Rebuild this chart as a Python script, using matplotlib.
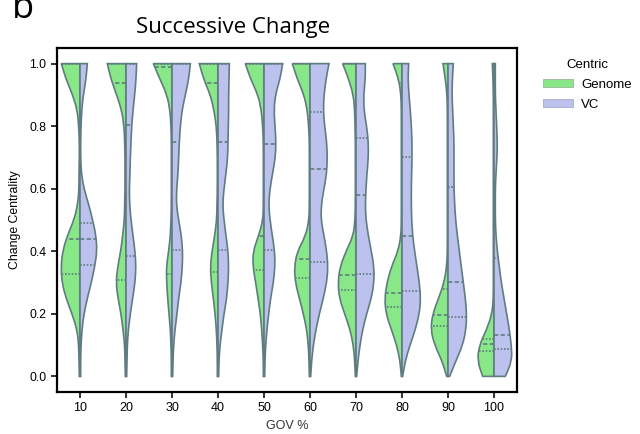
import numpy as np
import matplotlib
matplotlib.use("Agg")
import matplotlib.pyplot as plt
from matplotlib.path import Path
from matplotlib.patches import PathPatch, Patch

plt.rcParams['font.family'] = ['Liberation Sans', 'DejaVu Sans']

# categories
gov = ['10', '20', '30', '40', '50', '60', '70', '80', '90', '100']

levels = [0.0, 0.05, 0.1, 0.15, 0.2, 0.25, 0.3, 0.35, 0.4, 0.45, 0.5,
          0.55, 0.6, 0.65, 0.7, 0.75, 0.8, 0.85, 0.9, 0.95, 1.0]

# half-widths of the density (relative units), bottom -> top
genome_density = [
    [2, 3, 4, 9, 24, 42, 54, 57, 52, 38, 18, 7, 3, 3, 2, 2, 4, 8, 22, 42, 56],
    [2, 3, 4, 9, 15, 24, 30, 25, 16, 10, 5, 4, 3, 3, 3, 4, 6, 13, 28, 45, 56],
    [2, 2, 3, 5, 9, 13, 16, 17, 10, 5, 3, 2, 2, 2, 2, 2, 3, 6, 15, 36, 56],
    [2, 2, 3, 5, 9, 14, 20, 23, 18, 10, 4, 3, 2, 2, 2, 3, 5, 12, 23, 43, 56],
    [2, 2, 4, 7, 11, 18, 25, 33, 33, 16, 3, 2, 2, 2, 2, 2, 4, 8, 18, 40, 56],
    [2, 3, 5, 10, 20, 32, 44, 47, 38, 13, 3, 2, 2, 2, 2, 2, 4, 8, 18, 38, 53],
    [2, 4, 8, 18, 34, 50, 54, 48, 30, 8, 3, 2, 2, 2, 2, 2, 3, 4, 8, 22, 40],
    [2, 6, 16, 32, 48, 52, 45, 32, 12, 3, 2, 2, 2, 2, 2, 2, 2, 2, 3, 10, 27],
    [4, 18, 40, 52, 46, 28, 12, 4, 2, 2, 2, 2, 2, 2, 2, 2, 2, 2, 3, 8, 15],
    [34, 50, 44, 22, 6, 2, 2, 2, 2, 2, 2, 2, 2, 2, 2, 2, 2, 2, 2, 3, 5],
]
vc_density = [
    [2, 2, 3, 6, 12, 22, 34, 44, 51, 48, 38, 26, 12, 4, 2, 2, 3, 5, 10, 18, 22],
    [2, 3, 4, 7, 13, 20, 27, 30, 27, 21, 15, 11, 10, 12, 13, 15, 17, 21, 26, 30, 32],
    [2, 3, 5, 9, 15, 20, 27, 31, 32, 28, 20, 13, 14, 18, 20, 22, 25, 30, 40, 50, 55],
    [2, 3, 6, 12, 18, 26, 30, 32, 30, 24, 18, 14, 18, 24, 29, 30, 31, 32, 32, 33, 34],
    [2, 3, 5, 9, 14, 20, 28, 33, 32, 25, 18, 14, 18, 26, 34, 36, 33, 30, 34, 48, 56],
    [2, 5, 10, 18, 28, 40, 50, 54, 50, 42, 33, 34, 42, 50, 52, 50, 44, 40, 42, 48, 57],
    [2, 6, 12, 20, 32, 46, 54, 54, 46, 37, 30, 28, 30, 33, 37, 37, 32, 24, 23, 28, 28],
    [2, 10, 24, 40, 52, 56, 52, 45, 38, 32, 29, 28, 28, 29, 30, 30, 28, 25, 21, 18, 20],
    [5, 24, 44, 54, 56, 52, 46, 40, 34, 28, 23, 20, 18, 18, 18, 18, 16, 14, 12, 13, 16],
    [34, 54, 52, 46, 38, 30, 22, 16, 10, 6, 4, 4, 4, 6, 9, 10, 8, 6, 4, 4, 4],
]

# quartiles [q1, median, q3]
genome_quart = [
    [0.328, 0.438, 1.0], [0.309, 0.937, 1.0], [0.328, 0.99, 1.0],
    [0.334, 0.937, 1.0], [0.341, 0.449, 1.0], [0.314, 0.376, 1.0],
    [0.275, 0.323, 1.0], [0.222, 0.266, 0.937], [0.161, 0.197, 0.280],
    [0.080, 0.104, 0.120],
]
vc_quart = [
    [0.355, 0.440, 0.490], [0.385, 0.803, 1.0], [0.405, 0.751, 1.0],
    [0.403, 0.751, 1.0], [0.403, 0.744, 1.0], [0.366, 0.664, 0.845],
    [0.328, 0.581, 0.762], [0.272, 0.448, 0.701], [0.190, 0.302, 0.605],
    [0.086, 0.133, 0.378],
]

green = '#88e888'
lavender = '#bcc1ee'
edge = '#5f7d80'
scale = 1 / 138.0


def half_violin(ax, center, dens, side, color):
    ys = np.array(levels)
    xs = center + side * np.array(dens) * scale
    pts = list(zip(xs, ys))
    verts = [(center, ys[0]), pts[0]]
    codes = [Path.MOVETO, Path.LINETO]
    mid = ((pts[0][0] + pts[1][0]) / 2, (pts[0][1] + pts[1][1]) / 2)
    verts.append(mid)
    codes.append(Path.LINETO)
    for i in range(1, len(pts) - 1):
        mid = ((pts[i][0] + pts[i + 1][0]) / 2, (pts[i][1] + pts[i + 1][1]) / 2)
        verts += [pts[i], mid]
        codes += [Path.CURVE3, Path.CURVE3]
    verts += [pts[-1], (center, ys[-1]), (center, ys[0])]
    codes += [Path.LINETO, Path.LINETO, Path.CLOSEPOLY]
    ax.add_patch(PathPatch(Path(verts, codes), facecolor=color,
                           edgecolor=edge, lw=1.2, zorder=2))


def quart_lines(ax, center, dens, quart, side):
    for k, q in enumerate(quart):
        w = np.interp(q, levels, dens) * scale
        dashes = (2.5, 1.5) if k == 1 else (1, 1)
        ax.plot([center, center + side * w], [q, q], color=edge, lw=1.2,
                dashes=dashes, zorder=3, solid_capstyle='butt')


fig = plt.figure(figsize=(6.4, 4.34), dpi=100)
ax = fig.add_axes([57 / 640, 42 / 434, 460 / 640, 344 / 434])

for i in range(len(gov)):
    half_violin(ax, i, genome_density[i], -1, green)
    half_violin(ax, i, vc_density[i], 1, lavender)
    quart_lines(ax, i, genome_density[i], genome_quart[i], -1)
    quart_lines(ax, i, vc_density[i], vc_quart[i], 1)

ax.set_xlim(-0.5, len(gov) - 0.5)
ax.set_ylim(-0.05, 1.05)
ax.set_xticks(range(len(gov)))
ax.set_xticklabels(gov, fontsize=9)
ax.set_yticks([0, 0.2, 0.4, 0.6, 0.8, 1.0])
ax.set_yticklabels(['0.0', '0.2', '0.4', '0.6', '0.8', '1.0'], fontsize=8.8)
ax.tick_params(length=4, width=1.2, color='#111111')
for s in ax.spines.values():
    s.set_linewidth(1.6)
ax.set_xlabel('GOV %', fontsize=9, color='#333333')
ax.set_ylabel('Change Centrality', fontsize=8.8, labelpad=6)

fig.text(233 / 640, 1 - 33 / 434, 'Successive Change', ha='center',
         va='baseline', fontsize=16, family=['Open Sans', 'DejaVu Sans'])
fig.text(12 / 640, 1 - 18 / 434, 'b', ha='left', va='baseline',
         fontsize=26, family=['Open Sans', 'DejaVu Sans'])

handles = [Patch(facecolor=green, edgecolor='#9ab89a', lw=0.6),
           Patch(facecolor=lavender, edgecolor='#a8abd0', lw=0.6)]
leg = ax.legend(handles, ['Genome', 'VC'], title='Centric', loc='upper left',
                bbox_to_anchor=(1.03, 1.003), frameon=False, fontsize=9.5,
                title_fontsize=9.5, handlelength=2.3, handleheight=0.6,
                handletextpad=0.6, labelspacing=0.6)

fig.savefig('out.png', dpi=100)
